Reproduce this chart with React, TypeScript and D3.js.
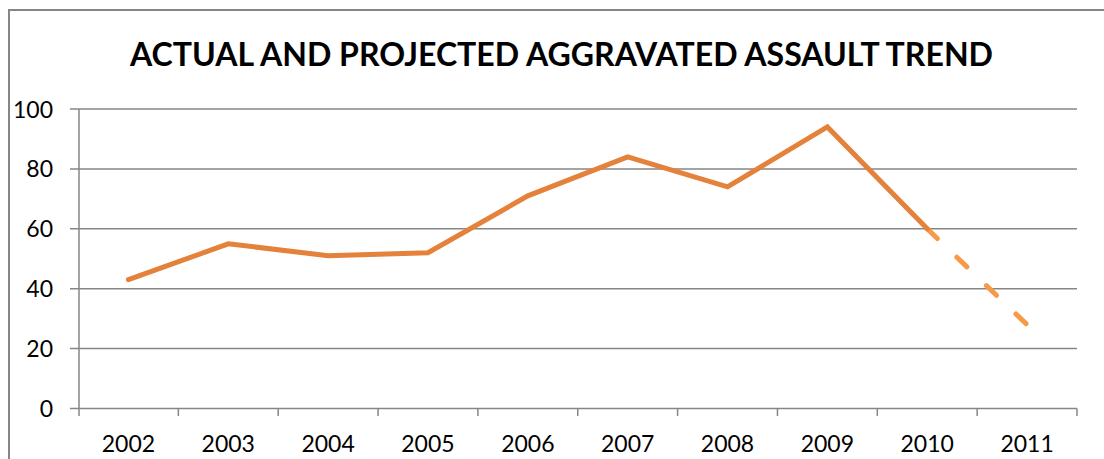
import React from "react";
import * as d3 from "d3";

const years = ["2002", "2003", "2004", "2005", "2006", "2007", "2008", "2009", "2010", "2011"];
const actual: (number | null)[] = [43, 55, 51, 52, 71, 84, 74, 94, 60, null];
const projected: (number | null)[] = [null, null, null, null, null, null, null, null, 60, 28];
const yTicks = [0, 20, 40, 60, 80, 100];
const title = "ACTUAL AND PROJECTED AGGRAVATED ASSAULT TREND";

export default function App() {
  const W = 1104, H = 459;
  const left = 78.5, right = 1077, top = 109, bottom = 408.5;
  const x = d3.scaleBand<string>().domain(years).range([left, right]).padding(0);
  const y = d3.scaleLinear().domain([0, 100]).range([bottom, top]);
  const cx = (d: string) => (x(d) as number) + x.bandwidth() / 2;

  const lineGen = d3
    .line<{ year: string; v: number | null }>()
    .defined((d) => d.v !== null)
    .x((d) => cx(d.year))
    .y((d) => y(d.v as number));

  const actualPath = lineGen(years.map((yr, i) => ({ year: yr, v: actual[i] }))) || "";
  const projPath = lineGen(years.map((yr, i) => ({ year: yr, v: projected[i] }))) || "";

  const grid = "#868686";
  const font = "Lato, 'Open Sans', sans-serif";

  return (
    <svg
      width={W}
      height={H}
      style={{ position: "absolute", left: 0, top: 0, background: "#fff" }}
    >
      <rect x={9} y={10} width={W + 10} height={H + 10} fill="#fff" stroke={grid} strokeWidth={2} />
      <text
        x={561.5}
        y={66}
        textAnchor="middle"
        fontFamily={font}
        fontWeight="bold"
        fontSize={32}
        textLength={863}
        lengthAdjust="spacingAndGlyphs"
        fill="#000"
      >
        {title}
      </text>
      {yTicks.map((t) => (
        <g key={t}>
          <line x1={70} x2={right} y1={y(t)} y2={y(t)} stroke={grid} strokeWidth={1.5} />
          <text
            x={53}
            y={y(t) + 8.5}
            textAnchor="end"
            fontFamily={font}
            fontSize={23}
            fill="#000"
          >
            {t}
          </text>
        </g>
      ))}
      <line x1={79} x2={79} y1={top} y2={416} stroke={grid} strokeWidth={1.5} />
      {years.map((yr) => (
        <line
          key={"t" + yr}
          x1={(x(yr) as number) + x.bandwidth()}
          x2={(x(yr) as number) + x.bandwidth()}
          y1={bottom}
          y2={416}
          stroke={grid}
          strokeWidth={1.5}
        />
      ))}
      {years.map((yr) => (
        <text
          key={"l" + yr}
          x={cx(yr)}
          y={452}
          textAnchor="middle"
          fontFamily={font}
          fontSize={23}
          fill="#000"
        >
          {yr}
        </text>
      ))}
      <path
        d={projPath}
        fill="none"
        stroke="#F79A48"
        strokeWidth={5}
        strokeLinecap="round"
        strokeDasharray="14 27"
      />
      <path
        d={actualPath}
        fill="none"
        stroke="#E4813A"
        strokeWidth={5}
        strokeLinecap="round"
        strokeLinejoin="miter"
      />
    </svg>
  );
}
